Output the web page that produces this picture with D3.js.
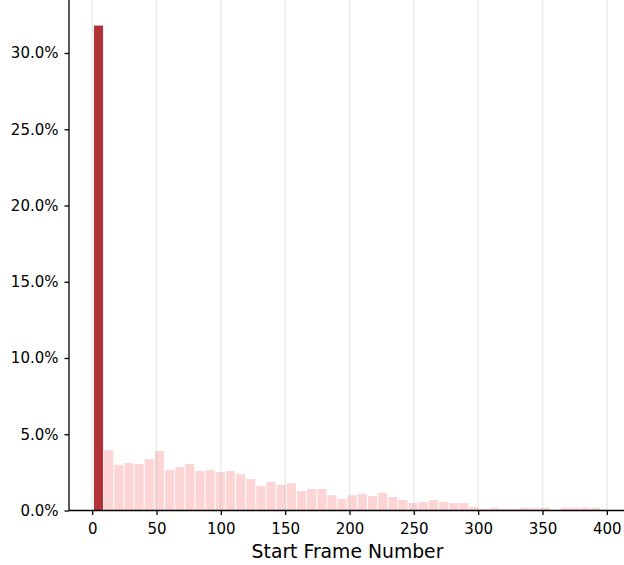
<!DOCTYPE html>
<html>
<head>
<meta charset="utf-8">
<script src="https://cdn.jsdelivr.net/npm/d3@7"></script>
<style>
  body { margin: 0; background: #fff; }
  svg { display: block; font-family: "DejaVu Sans", sans-serif; }
</style>
</head>
<body>
<svg id="chart"></svg>
<script>
// histogram of start frame numbers: 50 bins between first and last frame
const binLo = 1;
const binHi = 395.4;
const binCount = 50;

// share of clips (%) per bin
const shares = [
  31.8, 3.96, 2.98, 3.11, 3.05, 3.37, 3.90, 2.65, 2.85, 3.05,
  2.59, 2.65, 2.52, 2.59, 2.39, 2.06, 1.60, 1.87, 1.67, 1.80,
  1.28, 1.41, 1.41, 1.00, 0.75, 1.00, 1.08, 0.95, 1.15, 0.88,
  0.69, 0.49, 0.56, 0.69, 0.56, 0.49, 0.49, 0.24, 0.11, 0.18,
  0.11, 0.11, 0.18, 0.18, 0.18, 0.02, 0.18, 0.18, 0.18, 0.18
];

const xTicks = [0, 50, 100, 150, 200, 250, 300, 350, 400];
const yTicks = [0, 5, 10, 15, 20, 25, 30];
const xLabel = 'Start Frame Number';

const width = 624, height = 565;
const mLeft = 69, mRight = 626, mTop = 0, mBottom = 510.5;

const svg = d3.select('#chart')
    .attr('width', width)
    .attr('height', height);

const x = d3.scaleLinear().domain([-18.0, 414.9]).range([mLeft, mRight]);
const y = d3.scaleLinear().domain([0, 33.475]).range([mBottom, mTop]);

const step = (binHi - binLo) / binCount;
const bins = shares.map((v, i) => ({ x0: binLo + i * step, x1: binLo + (i + 1) * step, v, i }));

// bars (rwidth 0.9)
svg.append('g')
    .selectAll('rect')
    .data(bins)
    .enter()
    .append('rect')
    .attr('x', d => x(d.x0 + step * 0.05))
    .attr('width', d => x(d.x0 + step * 0.95) - x(d.x0 + step * 0.05))
    .attr('y', d => y(d.v))
    .attr('height', d => y(0) - y(d.v))
    .attr('fill', d => d.i === 0 ? '#b03236' : '#fdd5d5');

// vertical grid, drawn over the patches like matplotlib does
svg.append('g')
    .selectAll('line')
    .data(xTicks)
    .enter()
    .append('line')
    .attr('x1', d => x(d)).attr('x2', d => x(d))
    .attr('y1', mTop).attr('y2', mBottom)
    .attr('stroke', '#b0b0b0')
    .attr('stroke-opacity', 0.25)
    .attr('stroke-width', 1.5);

const xAxis = svg.append('g')
    .attr('transform', `translate(0,${mBottom})`)
    .call(d3.axisBottom(x).tickValues(xTicks).tickSize(4.5).tickPadding(8).tickFormat(d3.format('d')));

const yAxis = svg.append('g')
    .attr('transform', `translate(${mLeft},0)`)
    .call(d3.axisLeft(y).tickValues(yTicks).tickSize(4.5).tickPadding(6).tickFormat(d => d.toFixed(1) + '%'));

[xAxis, yAxis].forEach(ax => {
    ax.select('.domain').attr('stroke', '#000').attr('stroke-width', 1.3);
    ax.selectAll('.tick line').attr('stroke', '#000').attr('stroke-width', 1.3);
    ax.selectAll('.tick text')
        .attr('fill', '#000')
        .style('font-family', '"DejaVu Sans", sans-serif')
        .style('font-size', '15px');
});
// spines without end caps
yAxis.select('.domain').attr('d', `M0,${mTop}V${mBottom}`);
xAxis.select('.domain').attr('d', `M${mLeft},0H${mRight}`);

svg.append('text')
    .attr('x', (mLeft + mRight) / 2)
    .attr('y', 558)
    .attr('text-anchor', 'middle')
    .style('font-size', '18.8px')
    .attr('fill', '#000')
    .text(xLabel);
</script>
</body>
</html>
